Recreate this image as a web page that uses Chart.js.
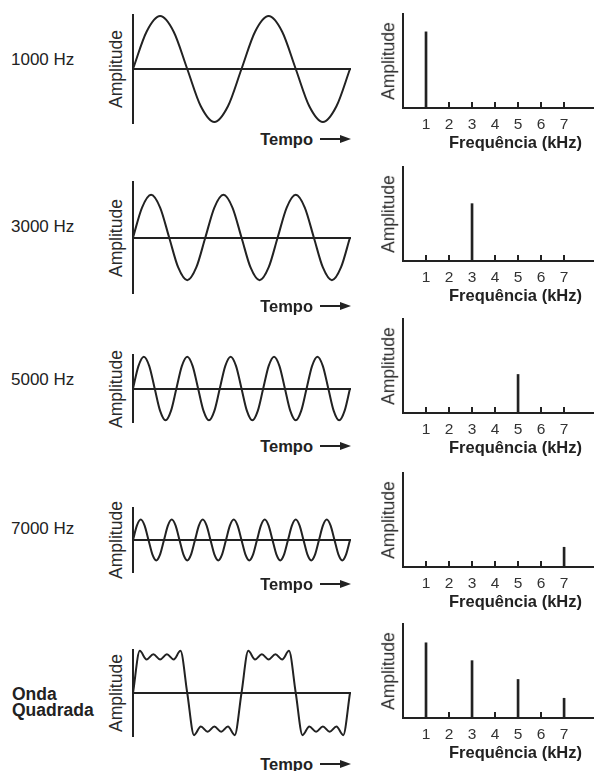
<!DOCTYPE html>
<html><head><meta charset="utf-8">
<script src="https://cdn.jsdelivr.net/npm/chart.js@4.4.1/dist/chart.umd.min.js"></script>
<style>
html,body{margin:0;padding:0;background:#fff;}
#root{position:relative;width:594px;height:771px;overflow:hidden;font-family:"Liberation Sans",Arial,Helvetica,sans-serif;color:#222;}
.t{position:absolute;white-space:nowrap;line-height:1;}
canvas{position:absolute;}
svg{position:absolute;}
</style></head><body><div id="root"></div>
<script>
// ===== DATA =====
const rowLabels = ['1000 Hz', '3000 Hz', '5000 Hz', '7000 Hz'];
const squareLabel = ['Onda', 'Quadrada'];
const timeTitle = 'Tempo';
const ampTitle = 'Amplitude';
const freqTitle = 'Frequência (kHz)';
const freqTicks = [1, 2, 3, 4, 5, 6, 7];

// time-domain samples (8 per cycle)
const wave1000 = [0,0.69,0.98,0.69,0,-0.69,-0.98,-0.69, 0,0.69,0.98,0.69,0,-0.69,-0.98,-0.69, 0];
const wave3000 = [0,0.54,0.77,0.54,0,-0.54,-0.77,-0.54, 0,0.54,0.77,0.54,0,-0.54,-0.77,-0.54,
                  0,0.54,0.77,0.54,0,-0.54,-0.77,-0.54, 0];
const wave5000 = [0,0.67,0.95,0.67,0,-0.67,-0.95,-0.67, 0,0.67,0.95,0.67,0,-0.67,-0.95,-0.67,
                  0,0.67,0.95,0.67,0,-0.67,-0.95,-0.67, 0,0.67,0.95,0.67,0,-0.67,-0.95,-0.67,
                  0,0.67,0.95,0.67,0,-0.67,-0.95,-0.67, 0];
const wave7000 = [0,0.45,0.64,0.45,0,-0.45,-0.64,-0.45, 0,0.45,0.64,0.45,0,-0.45,-0.64,-0.45,
                  0,0.45,0.64,0.45,0,-0.45,-0.64,-0.45, 0,0.45,0.64,0.45,0,-0.45,-0.64,-0.45,
                  0,0.45,0.64,0.45,0,-0.45,-0.64,-0.45, 0,0.45,0.64,0.45,0,-0.45,-0.64,-0.45,
                  0,0.45,0.64,0.45,0,-0.45,-0.64,-0.45, 0];
const waveSquare = [0,0.98,0.78,0.9,0.78,0.9,0.78,0.98, 0,-0.98,-0.78,-0.9,-0.78,-0.9,-0.78,-0.98,
                    0,0.98,0.78,0.9,0.78,0.9,0.78,0.98, 0,-0.98,-0.78,-0.9,-0.78,-0.9,-0.78,-0.98, 0];

// spectra: amplitude at 1..7 kHz
const spec1000 = [0.81, 0, 0, 0, 0, 0, 0];
const spec3000 = [0, 0, 0.61, 0, 0, 0, 0];
const spec5000 = [0, 0, 0, 0, 0.41, 0, 0];
const spec7000 = [0, 0, 0, 0, 0, 0, 0.21];
const specSquare = [0.80, 0, 0.61, 0, 0.41, 0, 0.21];

// ===== LAYOUT =====
const root = document.getElementById('root');
const INK = '#222';
const P = 6;
const LEFT = {x0: 133, x1: 350};
const RIGHT = {x0: 403, x1: 594};
const leftRows = [[15,123],[182,293],[355,422],[508,572],[650,736]];
const rightRows = [[14,108],[167,261],[319,413],[473,567],[624,718]];
const tempoY = [139, 306, 446, 584, 764];
const labelY = [58.5, 226, 379, 528];

Chart.defaults.font.family = '"Liberation Sans", Arial, Helvetica, sans-serif';

function addCanvas(l, t, w, h) {
  const c = document.createElement('canvas');
  c.width = w; c.height = h;
  c.style.left = l + 'px'; c.style.top = t + 'px';
  c.style.width = w + 'px'; c.style.height = h + 'px';
  root.appendChild(c);
  return c.getContext('2d');
}
function plainAxis() {
  return {
    display: true,
    ticks: {display: false},
    grid: {display: true, drawOnChartArea: false, drawTicks: false, offset: false},
    border: {display: true, color: INK, width: 2}
  };
}
function baseOpts() {
  return {
    responsive: false, animation: false, events: [],
    layout: {padding: P},
    plugins: {legend: {display: false}, tooltip: {enabled: false}, title: {display: false}}
  };
}

function waveChart(values, top, bottom) {
  const w = LEFT.x1 - LEFT.x0, h = bottom - top;
  const ctx = addCanvas(LEFT.x0 - P, top - P, w + 2 * P, h + 2 * P);
  const o = baseOpts();
  o.scales = {
    x: Object.assign(plainAxis(), {type: 'linear', min: 0, max: values.length - 1, position: {y: 0},
        afterFit: s => { s.height = 0; }}),
    y: Object.assign(plainAxis(), {type: 'linear', min: -1, max: 1, position: 'left',
        afterFit: s => { s.width = 0; }})
  };
  new Chart(ctx, {
    type: 'line',
    data: {datasets: [{data: values.map((v, i) => ({x: i, y: v})), borderColor: INK, borderWidth: 2,
      pointRadius: 0, cubicInterpolationMode: 'monotone', fill: false, clip: false}]},
    options: o
  });
}

const tickMarks = {
  id: 'tickMarks',
  afterDatasetsDraw(chart) {
    const {ctx, scales: {x, y}} = chart;
    const base = y.getPixelForValue(0);
    ctx.save();
    ctx.strokeStyle = INK; ctx.lineWidth = 2;
    x.ticks.forEach(t => {
      const px = Math.round(x.getPixelForValue(t.value));
      ctx.beginPath(); ctx.moveTo(px, base); ctx.lineTo(px, base - 6); ctx.stroke();
    });
    ctx.restore();
  }
};

function specChart(values, top, bottom) {
  const w = RIGHT.x1 - RIGHT.x0, h = bottom - top, B = 28;
  const ctx = addCanvas(RIGHT.x0 - P, top - P, w + 2 * P, h + B + 2 * P);
  const o = baseOpts();
  const xa = plainAxis();
  Object.assign(xa, {type: 'linear', min: 0, max: 8.3, offset: false, position: 'bottom',
    afterBuildTicks: s => { s.ticks = freqTicks.map(v => ({value: v})); },
    afterFit: s => { s.height = B; }});
  xa.ticks = {display: true, color: '#333', font: {size: 15.5}, padding: 7, autoSkip: false,
    maxRotation: 0, minRotation: 0, callback: v => String(v)};
  o.scales = {
    x: xa,
    y: Object.assign(plainAxis(), {type: 'linear', min: 0, max: 1, position: 'left',
        afterFit: s => { s.width = 0; }})
  };
  new Chart(ctx, {
    type: 'bar',
    data: {datasets: [{data: freqTicks.map((f, i) => ({x: f, y: values[i]})),
      backgroundColor: INK, borderWidth: 0, barThickness: 2}]},
    options: o,
    plugins: [tickMarks]
  });
}

function addText(str, css) {
  const d = document.createElement('div');
  d.className = 't';
  d.textContent = str;
  Object.assign(d.style, css);
  root.appendChild(d);
  return d;
}
function addArrow(x, cy) {
  const ns = 'http://www.w3.org/2000/svg';
  const s = document.createElementNS(ns, 'svg');
  s.setAttribute('width', 32); s.setAttribute('height', 10);
  s.style.left = x + 'px'; s.style.top = (cy - 5) + 'px';
  s.innerHTML = '<line x1="0" y1="5" x2="22" y2="5" stroke="#222" stroke-width="2"/>' +
                '<polygon points="20,1 31,5 20,9" fill="#222"/>';
  root.appendChild(s);
}

const waves = [wave1000, wave3000, wave5000, wave7000, waveSquare];
const specs = [spec1000, spec3000, spec5000, spec7000, specSquare];

waves.forEach((w, i) => {
  const [t, b] = leftRows[i];
  waveChart(w, t, b);
  addText(ampTitle, {left: '116.5px', top: ((t + b) / 2) + 'px', fontSize: '17.5px', color: '#2a2a2a',
    transform: 'translate(-50%,-50%) rotate(-90deg)'});
  addText(timeTitle, {left: '313px', top: tempoY[i] + 'px', fontSize: '16.5px', fontWeight: 'bold',
    transform: 'translate(-100%,-50%)'});
  addArrow(320, tempoY[i]);
});
specs.forEach((s, i) => {
  const [t, b] = rightRows[i];
  specChart(s, t, b);
  addText(ampTitle, {left: '389px', top: ((t + b) / 2) + 'px', fontSize: '17.5px', color: '#2a2a2a',
    transform: 'translate(-50%,-50%) rotate(-90deg)'});
  addText(freqTitle, {left: '515.5px', top: (b + 34) + 'px', fontSize: '16.5px', fontWeight: 'bold',
    transform: 'translate(-50%,-50%)'});
});
rowLabels.forEach((l, i) => {
  addText(l, {left: '11px', top: labelY[i] + 'px', fontSize: '17px', transform: 'translateY(-50%)'});
});
addText(squareLabel[0], {left: '12px', top: '695px', fontSize: '17.5px', fontWeight: 'bold', transform: 'translateY(-50%)'});
addText(squareLabel[1], {left: '12px', top: '711px', fontSize: '17.5px', fontWeight: 'bold', transform: 'translateY(-50%)'});
</script>
</body></html>
